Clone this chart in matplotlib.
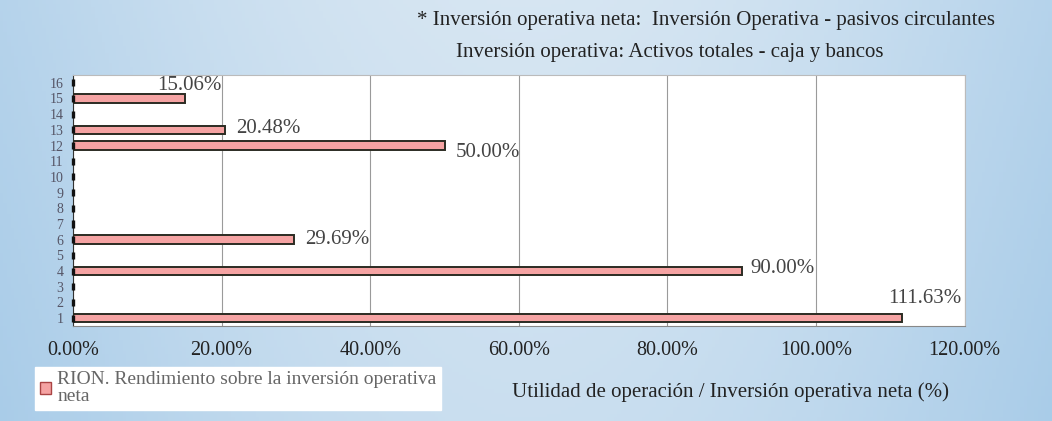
import numpy as np
import matplotlib
matplotlib.use("Agg")
import matplotlib.pyplot as plt
from matplotlib.patches import Patch

# data
categories = list(range(1, 17))
rion = [111.63, 0, 0, 90.00, 0, 29.69, 0, 0, 0, 0, 0, 50.00, 20.48, 0, 15.06, 0]
tick_labels = [str(c) for c in categories]

title_1 = "* Inversión operativa neta:  Inversión Operativa - pasivos circulantes"
title_2 = "Inversión operativa: Activos totales - caja y bancos"
x_title = "Utilidad de operación / Inversión operativa neta (%)"
legend_text = "RION. Rendimiento sobre la inversión operativa\nneta"

# label offsets in points (dx, dy), the scan places them a bit irregularly
label_offsets = {1: (-10, 14), 4: (6, 2), 6: (8, 0), 12: (8, -5), 13: (8, 1), 15: (-20, 9)}

serif = ["Liberation Serif", "DejaVu Serif"]
plt.rcParams["font.family"] = serif

fig = plt.figure(figsize=(10.52, 4.21), dpi=100)

# scanned blue background
bg = fig.add_axes([0, 0, 1, 1], zorder=-10)
gx = np.linspace(0, 1, 300)
gy = np.linspace(0, 1, 120)
X, Y = np.meshgrid(gx, gy)
shade = 0.45 + 0.4 * np.sin(np.pi * X) + 0.15 * Y
base = np.array([0.52, 0.72, 0.88])
light = np.array([0.84, 0.90, 0.95])
img = base[None, None, :] + (light - base)[None, None, :] * np.clip(shade, 0, 1)[..., None]
bg.imshow(img, aspect="auto", extent=[0, 1, 0, 1], origin="lower")
bg.axis("off")

ax = fig.add_axes([0.0694, 0.2257, 0.8476, 0.5963])
ax.set_facecolor("white")

# zero bars leave the small black stubs on the axis
ax.barh(categories, rion, height=0.55, color="#f5a3a3", edgecolor="#2b2b22",
        linewidth=1.4, zorder=3)
stubs = ax.barh(categories, [0] * len(categories), height=0.45, color="none",
                edgecolor="#111111", linewidth=2.4, zorder=4)
for p in stubs:
    p.set_clip_on(False)

for c, v in zip(categories, rion):
    if v > 0:
        dx, dy = label_offsets.get(c, (6, 0))
        ax.annotate(f"{v:.2f}%", (v, c), xytext=(dx, dy), textcoords="offset points",
                    ha="left", va="center", fontsize=15, color="#444444")

ax.set_xlim(0, 120)
ax.set_ylim(0.5, 16.5)
ax.set_xticks(np.arange(0, 121, 20))
ax.set_xticklabels([f"{t:.2f}%" for t in np.arange(0, 121, 20)], fontsize=14.5, color="#222222")
ax.set_yticks(categories)
ax.set_yticklabels(tick_labels, fontsize=10, color="#555566")
ax.tick_params(axis="y", length=0, pad=7)
ax.tick_params(axis="x", length=0, pad=11)
ax.xaxis.grid(True, color="#9a9a9a", linewidth=0.8, zorder=0)
ax.set_axisbelow(True)
for s in ["top", "right"]:
    ax.spines[s].set_color("#bbbbbb")
    ax.spines[s].set_linewidth(0.8)
ax.spines["left"].set_color("#333333")
ax.spines["bottom"].set_color("#888888")

fig.text(0.671, 0.952, title_1, ha="center", va="center", fontsize=15, color="#222222")
fig.text(0.637, 0.876, title_2, ha="center", va="center", fontsize=15, color="#222222")
fig.text(0.694, 0.068, x_title, ha="center", va="center", fontsize=15, color="#222222")

leg = fig.legend(handles=[Patch(facecolor="#f5a3a3", edgecolor="#aa4444", label=legend_text)],
                 loc="lower left", bbox_to_anchor=(0.024, 0.004), frameon=True,
                 fancybox=False, fontsize=14, handlelength=0.6, handleheight=0.6,
                 handletextpad=0.3, borderpad=0.25, labelspacing=0.1, labelcolor="#666666")
leg.get_frame().set_edgecolor("white")
leg.get_frame().set_facecolor("white")
leg.get_frame().set_alpha(1)
for t in leg.get_texts():
    t.set_linespacing(0.95)

fig.savefig("out.png", dpi=100)
